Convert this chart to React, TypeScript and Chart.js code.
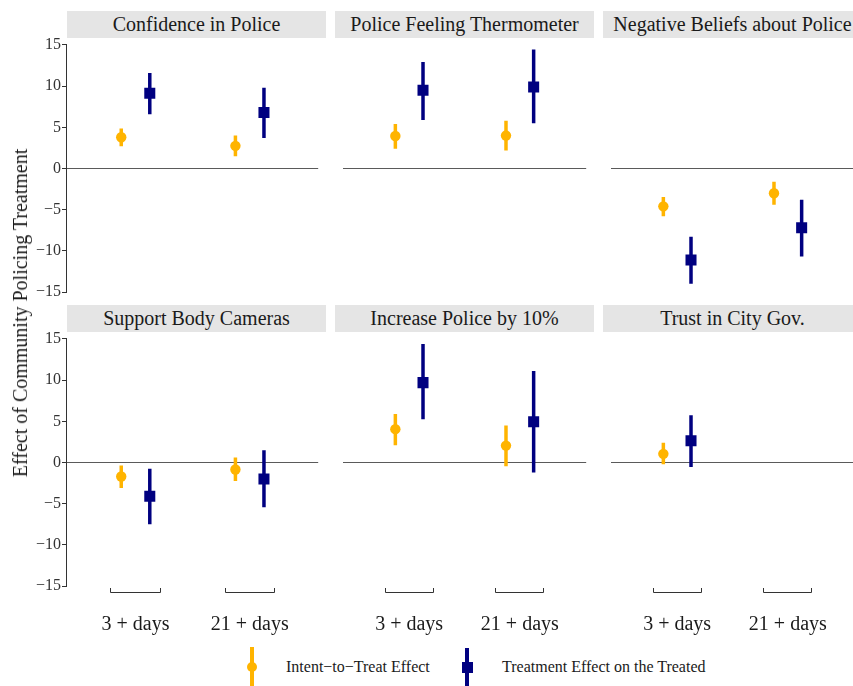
import React, { useEffect, useRef } from "react";
import { Chart, registerables } from "chart.js";

Chart.register(...registerables);

// ---------- data ----------
const panelTitles = [
  "Confidence in Police",
  "Police Feeling Thermometer",
  "Negative Beliefs about Police",
  "Support Body Cameras",
  "Increase Police by 10%",
  "Trust in City Gov.",
];
const categories = ["3 + days", "21 + days"];
const yTicks = [15, 10, 5, 0, -5, -10, -15];

// Intent-to-Treat effect: [3 + days, 21 + days] per panel
const ittEst = [[3.8, 2.75], [3.95, 4.0], [-4.6, -3.0], [-1.7, -0.85], [4.05, 2.05], [1.05, null]];
const ittLow = [[2.7, 1.5], [2.4, 2.2], [-5.8, -4.4], [-3.1, -2.25], [2.1, -0.45], [-0.2, null]];
const ittHigh = [[4.85, 4.0], [5.4, 5.8], [-3.45, -1.6], [-0.35, 0.6], [5.9, 4.5], [2.4, null]];

// Treatment Effect on the Treated
const totEst = [[9.15, 6.8], [9.5, 9.9], [-11.1, -7.2], [-4.1, -2.0], [9.7, 4.95], [2.65, null]];
const totLow = [[6.6, 3.7], [5.9, 5.5], [-14.0, -10.7], [-7.5, -5.45], [5.25, -1.2], [-0.55, null]];
const totHigh = [[11.6, 9.8], [12.95, 14.45], [-8.3, -3.8], [-0.75, 1.5], [14.4, 11.1], [5.75, null]];

const seriesNames = ["Intent\u2212to\u2212Treat Effect", "Treatment Effect on the Treated"];

// ---------- styles ----------
const ITT_COLOR = "#FFB400";
const TOT_COLOR = "#000080";
const TEXT_COLOR = "#1A1A1A";
const FONT = '"Liberation Serif", "Times New Roman", serif';

const PLOT_LEFTS = [67, 335, 603];
const PLOT_TOPS = [38, 332];
const STRIP_TOPS = [11, 305];
const STRIP_H = 27;
const PLOT_W = 259;
const PLOT_H = 261;
const Y_AXIS_W = 67;
const PAD = 12;
const X_AXIS_H = 54;
const DODGE = 0.125;
const BRACKET_HALF = 0.22;
const Y_LIM = 15.85;

const fmt = (v: number) => (v < 0 ? "\u2212" + Math.abs(v) : String(v));

const axisPlugin = {
  id: "cappedAxis",
  afterDraw(chart: any, _args: any, opts: any) {
    const ctx = chart.ctx;
    const ys = chart.scales.y;
    const xs = chart.scales.x;
    const area = chart.chartArea;
    ctx.save();
    ctx.strokeStyle = "#333333";
    ctx.lineWidth = 1;
    if (opts.showY) {
      const xp = Math.round(area.left) - 0.5;
      ctx.beginPath();
      ctx.moveTo(xp, Math.round(ys.getPixelForValue(15)) - 0.5);
      ctx.lineTo(xp, Math.round(ys.getPixelForValue(-15)) + 0.5);
      ctx.stroke();
    }
    if (opts.showX) {
      const yp = Math.round(area.bottom) - 0.5;
      for (const g of [1, 2]) {
        const x1 = Math.round(xs.getPixelForValue(g - BRACKET_HALF)) + 0.5;
        const x2 = Math.round(xs.getPixelForValue(g + BRACKET_HALF)) - 0.5;
        ctx.beginPath();
        ctx.moveTo(x1, yp - 4.5);
        ctx.lineTo(x1, yp);
        ctx.lineTo(x2, yp);
        ctx.lineTo(x2, yp - 4.5);
        ctx.stroke();
      }
    }
    ctx.restore();
  },
};

function Panel({ idx }: { idx: number }) {
  const ref = useRef<HTMLCanvasElement>(null);
  const row = Math.floor(idx / 3);
  const col = idx % 3;
  const showY = col === 0;
  const showX = row === 1;
  const canvasLeft = showY ? PLOT_LEFTS[col] - Y_AXIS_W : PLOT_LEFTS[col];
  const canvasW = PLOT_W + (showY ? Y_AXIS_W : 0);
  const canvasTop = PLOT_TOPS[row] - PAD;
  const canvasH = PAD + PLOT_H + (showX ? X_AXIS_H : PAD);

  useEffect(() => {
    if (!ref.current) return;
    const datasets: any[] = [];
    const pointsOf = (est: (number | null)[], off: number) =>
      est
        .map((v, g) => (v == null ? null : { x: g + 1 + off, y: v }))
        .filter((p) => p !== null);

    datasets.push({
      label: seriesNames[1],
      data: pointsOf(totEst[idx], DODGE),
      pointStyle: "rect",
      pointRadius: 7.8,
      pointBorderWidth: 0,
      backgroundColor: TOT_COLOR,
      borderColor: TOT_COLOR,
      showLine: false,
    });
    datasets.push({
      label: seriesNames[0],
      data: pointsOf(ittEst[idx], -DODGE),
      pointStyle: "circle",
      pointRadius: 5.2,
      pointBorderWidth: 0,
      backgroundColor: ITT_COLOR,
      borderColor: ITT_COLOR,
      showLine: false,
    });
    const addCI = (lo: (number | null)[], hi: (number | null)[], off: number, color: string, name: string) => {
      lo.forEach((l, g) => {
        const h = hi[g];
        if (l == null || h == null) return;
        datasets.push({
          label: name + " CI",
          data: [
            { x: g + 1 + off, y: l },
            { x: g + 1 + off, y: h },
          ],
          showLine: true,
          borderColor: color,
          borderWidth: 3.5,
          pointRadius: 0,
          borderCapStyle: "butt",
        });
      });
    };
    addCI(totLow[idx], totHigh[idx], DODGE, TOT_COLOR, seriesNames[1]);
    addCI(ittLow[idx], ittHigh[idx], -DODGE, ITT_COLOR, seriesNames[0]);

    const chart = new Chart(ref.current, {
      type: "scatter",
      data: { datasets },
      plugins: [axisPlugin],
      options: {
        responsive: false,
        animation: false,
        events: [],
        layout: { padding: { top: PAD, bottom: showX ? 0 : PAD, left: 0, right: 0 } },
        plugins: {
          legend: { display: false },
          tooltip: { enabled: false },
          cappedAxis: { showY, showX },
        } as any,
        scales: {
          x: {
            type: "linear",
            min: 0.4,
            max: 2.6,
            display: showX,
            grid: { display: false, drawTicks: false },
            border: { display: false },
            afterBuildTicks: (s: any) => {
              s.ticks = [{ value: 1 }, { value: 2 }];
            },
            afterFit: (s: any) => {
              s.height = showX ? X_AXIS_H : 0;
            },
            ticks: {
              padding: 20,
              autoSkip: false,
              maxRotation: 0,
              font: { family: FONT, size: 20 },
              color: TEXT_COLOR,
              callback: (v: any) => categories[Number(v) - 1],
            },
          },
          y: {
            type: "linear",
            min: -Y_LIM,
            max: Y_LIM,
            display: true,
            afterBuildTicks: (s: any) => {
              s.ticks = yTicks.map((v) => ({ value: v }));
            },
            afterFit: (s: any) => {
              s.width = showY ? Y_AXIS_W : 0;
            },
            border: { display: false },
            grid: {
              color: (c: any) => (c.tick && c.tick.value === 0 ? "#5A5A5A" : "rgba(0,0,0,0)"),
              lineWidth: 1,
              drawTicks: showY,
              tickLength: 5,
              tickColor: "#333333",
            },
            ticks: {
              display: showY,
              autoSkip: false,
              padding: 1,
              font: { family: FONT, size: 16 },
              color: "#333333",
              callback: (v: any) => fmt(Number(v)),
            },
          },
        },
      } as any,
    });
    return () => chart.destroy();
  }, [idx]);

  return (
    <canvas
      ref={ref}
      width={canvasW}
      height={canvasH}
      style={{ position: "absolute", left: canvasLeft, top: canvasTop, width: canvasW, height: canvasH }}
    />
  );
}

export default function App() {
  return (
    <div
      style={{
        position: "fixed",
        left: 0,
        top: 0,
        width: 853,
        height: 686,
        overflow: "hidden",
        background: "#FFFFFF",
        fontFamily: FONT,
        color: TEXT_COLOR,
      }}
    >
      {panelTitles.map((t, i) => {
        const row = Math.floor(i / 3);
        const col = i % 3;
        return (
          <div
            key={"s" + i}
            style={{
              position: "absolute",
              left: PLOT_LEFTS[col],
              top: STRIP_TOPS[row],
              width: PLOT_W,
              height: STRIP_H,
              background: "#E5E5E5",
              display: "flex",
              alignItems: "center",
              justifyContent: "center",
              fontSize: 20,
              whiteSpace: "nowrap",
              lineHeight: "27px",
            }}
          >
            {t}
          </div>
        );
      })}
      {panelTitles.map((_, i) => (
        <Panel key={"p" + i} idx={i} />
      ))}
      <div
        style={{
          position: "absolute",
          left: 20,
          top: 313,
          transform: "translate(-50%, -50%) rotate(-90deg)",
          whiteSpace: "nowrap",
          fontSize: 20,
          lineHeight: "24px",
        }}
      >
        Effect of Community Policing Treatment
      </div>
      {/* legend */}
      <div style={{ position: "absolute", left: 250.25, top: 647, width: 3.5, height: 50, background: ITT_COLOR }} />
      <div
        style={{
          position: "absolute",
          left: 246.8,
          top: 661.8,
          width: 10.4,
          height: 10.4,
          borderRadius: "50%",
          background: ITT_COLOR,
        }}
      />
      <div
        style={{
          position: "absolute",
          left: 286,
          top: 667,
          transform: "translateY(-50%)",
          fontSize: 16,
          whiteSpace: "nowrap",
          lineHeight: "20px",
        }}
      >
        {seriesNames[0]}
      </div>
      <div style={{ position: "absolute", left: 465.25, top: 648, width: 3.5, height: 50, background: TOT_COLOR }} />
      <div style={{ position: "absolute", left: 461.5, top: 661.5, width: 11, height: 11, background: TOT_COLOR }} />
      <div
        style={{
          position: "absolute",
          left: 502,
          top: 667,
          transform: "translateY(-50%)",
          fontSize: 16,
          whiteSpace: "nowrap",
          lineHeight: "20px",
        }}
      >
        {seriesNames[1]}
      </div>
    </div>
  );
}
